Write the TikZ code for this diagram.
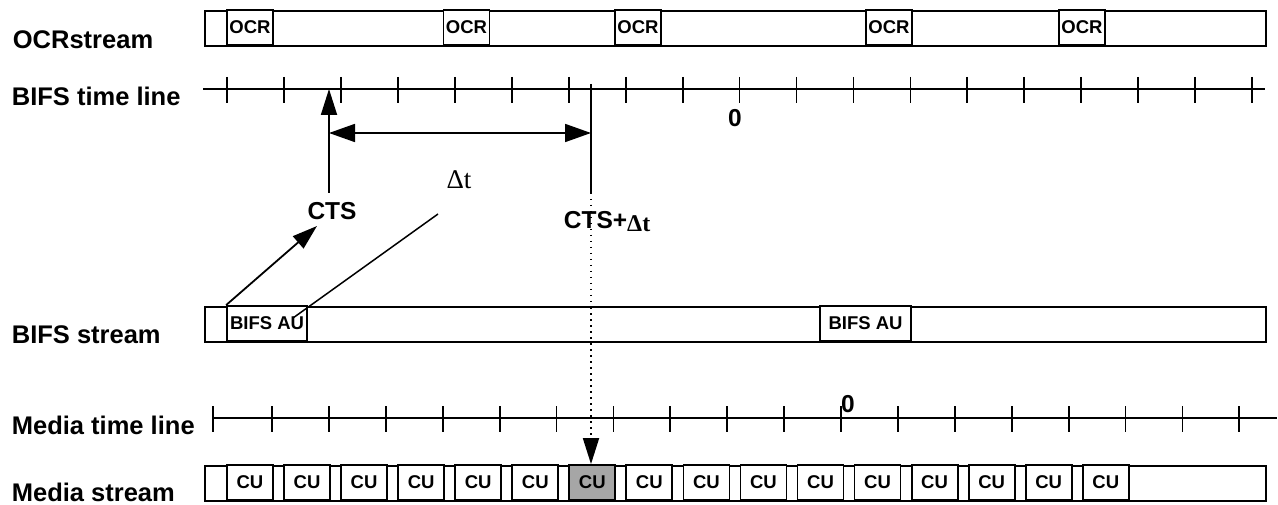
\documentclass[tikz,border=0pt]{standalone}
\usepackage{fontspec}
\setmainfont{Liberation Sans}
\newfontfamily\seriffont{Liberation Serif}
\usetikzlibrary{arrows.meta}
\definecolor{cugray}{HTML}{A6A6A6}
\begin{document}
\begin{tikzpicture}[x=1pt,y=-1pt,
  line width=1.8pt,
  bar/.style={draw, line width=1.8pt, inner sep=0pt, anchor=north west, minimum width=1061pt, minimum height=35pt},
  unitbox/.style={draw, line width=1.8pt, fill=white, minimum height=35pt, inner sep=0pt, font=\fontsize{18.5}{19}\selectfont\bfseries},
  rowlabel/.style={anchor=base west, inner sep=0pt, font=\fontsize{25.5}{26}\selectfont\bfseries},
  biglabel/.style={inner sep=0pt, font=\fontsize{24.5}{25}\selectfont\bfseries},
  arr/.style={-{Triangle[length=26pt,width=16pt]}},
  dblarr/.style={{Triangle[length=26pt,width=18pt]}-{Triangle[length=26pt,width=18pt]}},
  dots/.style={dash pattern=on 1.5pt off 4.5pt, line width=1.2pt},
]
\useasboundingbox (0,0) rectangle (1278,505);

% row labels
\node[rowlabel] (lOCR) at (12,49) {OCRstream};
\node[rowlabel] (lBTL) at (11,106) {BIFS time line};
\node[rowlabel] (lBS) at (11,344) {BIFS stream};
\node[rowlabel] (lMTL) at (11,434) {Media time line};
\node[rowlabel] (lMS) at (11,501) {Media stream};

% OCR stream
\node[bar] (ocrbar) at (204,10) {};
\node[unitbox, minimum width=46pt] (ocr1) at (250,27.5) {OCR};
\node[unitbox, minimum width=46pt] (ocr2) at (466.5,27.5) {OCR};
\node[unitbox, minimum width=46pt] (ocr3) at (638,27.5) {OCR};
\node[unitbox, minimum width=46pt] (ocr4) at (889,27.5) {OCR};
\node[unitbox, minimum width=46pt] (ocr5) at (1082,27.5) {OCR};

% BIFS time line
\draw (203,89) -- (1265,89);
\foreach \k in {0,...,18} \draw ({227+56.95*\k},77) -- ++(0,26);
\node[biglabel] (zero1) at (735,118) {0};

% BIFS stream
\node[bar] (bifsbar) at (204,306) {};
\node[unitbox, minimum width=80pt] (au1) at (267,323.5) {BIFS AU};
\node[unitbox, minimum width=91pt] (au2) at (865.5,323.5) {BIFS AU};

% Media time line
\draw (213,418) -- (1277,418);
\draw (213,406) -- ++(0,26);
\foreach \k in {0,...,17} \draw ({272+56.9*\k},406) -- ++(0,26);
\node[biglabel] (zero2) at (848,404) {0};

% Media stream
\node[bar] (mediabar) at (204,465) {};
\foreach \k in {0,...,5,7,8,...,15}
  \node[unitbox, minimum width=46pt] (cu\k) at ({250+57.05*\k},482.5) {CU};
\node[unitbox, minimum width=46pt, fill=cugray] (cu6) at ({250+57.05*6},482.5) {CU};

% CTS markers
\coordinate (ctsTop) at (329,89);
\coordinate (ctsBot) at (329,193);
\coordinate (dTop) at (591,84);
\coordinate (dBot) at (591,193);
\coordinate (hA) at (329,133);
\coordinate (hB) at (591,133);
\draw[arr] (ctsBot) -- (ctsTop);
\draw (dTop) -- (dBot);
\draw[dblarr] (hA) -- (hB);
\draw[dots] (dBot) -- (591,440);
\draw[arr] (591,438) -- (dBot |- cu6.north);

\node[biglabel] (cts) at (332,211) {CTS};
\node[inner sep=0pt, anchor=base west, font=\fontsize{24.5}{25}\selectfont\bfseries] (ctsdt) at (563,229)
  {CTS+\raisebox{-3pt}{\seriffont\bfseries\fontsize{24}{25}\selectfont Δt}};
\node[inner sep=0pt, font=\seriffont\fontsize{27}{28}\selectfont] (dt) at (459,180) {Δt};

% links from BIFS AU
\coordinate (ctsIn) at (317,226);
\coordinate (dtIn) at (438,214);
\coordinate (auIn) at (293,318);
\draw[-{Triangle[length=25pt,width=16pt]}] (au1.north west) -- (ctsIn);
\draw[line width=1.5pt] (auIn) -- (dtIn);
\end{tikzpicture}
\end{document}
